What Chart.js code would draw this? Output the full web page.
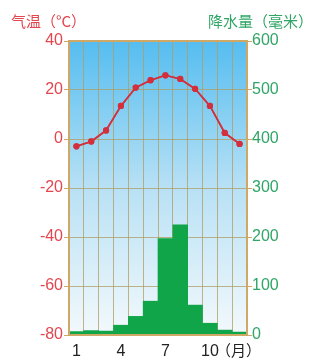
<!DOCTYPE html>
<html>
<head>
<meta charset="utf-8">
<script src="https://cdn.jsdelivr.net/npm/chart.js@4/dist/chart.umd.min.js"></script>
<style>
html,body{margin:0;padding:0;background:#fff;}
#wrap{width:314px;height:358px;position:relative;}
</style>
</head>
<body>
<div id="wrap"><canvas id="c" width="314" height="358"></canvas></div>
<script>
const months = ['1','2','3','4','5','6','7','8','9','10','11','12'];
const shownMonths = ['1','4','7','10'];
const temperature = [-3, -1, 3.5, 13.5, 21, 24, 26, 24.5, 20.5, 13.5, 2.5, -2];
const precipitation = [7, 9, 8, 20, 38, 69, 197, 225, 61, 24, 10, 6];
const tempTitle = '气温（°C）';
const precTitle = '降水量（毫米）';
const monthUnit = '（月）';

const TAN = '#cfa865';
const GRID = 'rgba(176,156,98,0.75)';
const RED = '#e2464f';
const GREEN = '#2fa566';

const bgPlugin = {
  id: 'bg',
  beforeDraw(chart) {
    const {ctx, chartArea: a} = chart;
    const g = ctx.createLinearGradient(0, a.top, 0, a.bottom);
    g.addColorStop(0, '#55bdf0');
    g.addColorStop(0.5, '#b8e1f5');
    g.addColorStop(1, '#f3f9fc');
    ctx.save();
    ctx.fillStyle = g;
    ctx.fillRect(a.left, a.top, a.right - a.left, a.bottom - a.top);
    ctx.restore();
  },
  afterDraw(chart) {
    const {ctx, chartArea: a} = chart;
    const meta = chart.getDatasetMeta(1);
    ctx.save();
    meta.controller.draw();
    ctx.restore();
    ctx.save();
    ctx.strokeStyle = TAN;
    ctx.lineWidth = 2;
    ctx.strokeRect(a.left, a.top, a.right - a.left, a.bottom - a.top);
    ctx.restore();
    ctx.save();
    ctx.font = '15px "Noto Sans CJK SC", sans-serif';
    ctx.textBaseline = 'middle';
    ctx.fillStyle = RED;
    ctx.textAlign = 'left';
    ctx.fillText(tempTitle, 11, 21);
    ctx.fillStyle = GREEN;
    ctx.textAlign = 'right';
    ctx.fillText(precTitle, 313, 21);
    const xs = chart.scales.x;
    const x10 = xs.getPixelForValue(9);
    ctx.fillStyle = '#222';
    ctx.textAlign = 'left';
    ctx.font = '15px "Noto Sans CJK SC", sans-serif';
    ctx.fillText(monthUnit, x10 + 6, 350);
    ctx.restore();
  }
};

new Chart(document.getElementById('c'), {
  data: {
    labels: months,
    datasets: [
      {
        type: 'bar',
        data: precipitation,
        yAxisID: 'y1',
        backgroundColor: '#10a548',
        borderWidth: 0,
        barPercentage: 1,
        categoryPercentage: 1,
        order: 2
      },
      {
        type: 'line',
        data: temperature,
        yAxisID: 'y',
        borderColor: '#d3303c',
        borderWidth: 1.6,
        pointRadius: 2.3,
        pointBackgroundColor: '#d3303c',
        pointBorderColor: '#d3303c',
        tension: 0,
        order: 1
      }
    ]
  },
  plugins: [bgPlugin],
  options: {
    responsive: false,
    animation: false,
    devicePixelRatio: 1,
    layout: {padding: {top: 41, bottom: 0, left: 0, right: 0}},
    plugins: {legend: {display: false}, tooltip: {enabled: false}},
    scales: {
      x: {
        type: 'category',
        offset: true,
        z: 1,
        grid: {offset: true, color: GRID, lineWidth: 1, drawTicks: false},
        border: {display: false},
        ticks: {
          autoSkip: false,
          maxRotation: 0,
          padding: 7,
          color: '#222',
          font: {family: '"Liberation Sans", Arial, sans-serif', size: 16},
          callback: function(v, i) { const l = months[i]; return shownMonths.includes(l) ? l : ''; }
        },
        afterFit(s) { s.height = 23; }
      },
      y: {
        position: 'left',
        min: -80, max: 40,
        z: 1,
        grid: {color: GRID, lineWidth: 1, tickLength: 5, tickColor: TAN},
        border: {display: false},
        ticks: {
          stepSize: 20,
          padding: 1,
          color: RED,
          font: {family: '"Liberation Sans", Arial, sans-serif', size: 16}
        },
        afterFit(s) { s.width = 69; }
      },
      y1: {
        position: 'right',
        min: 0, max: 600,
        z: 1,
        grid: {drawOnChartArea: false, tickLength: 5, tickColor: TAN},
        border: {display: false},
        ticks: {
          stepSize: 100,
          padding: 0,
          color: GREEN,
          font: {family: '"Liberation Sans", Arial, sans-serif', size: 16}
        },
        afterFit(s) { s.width = 67; }
      }
    }
  }
});
</script>
</body>
</html>
